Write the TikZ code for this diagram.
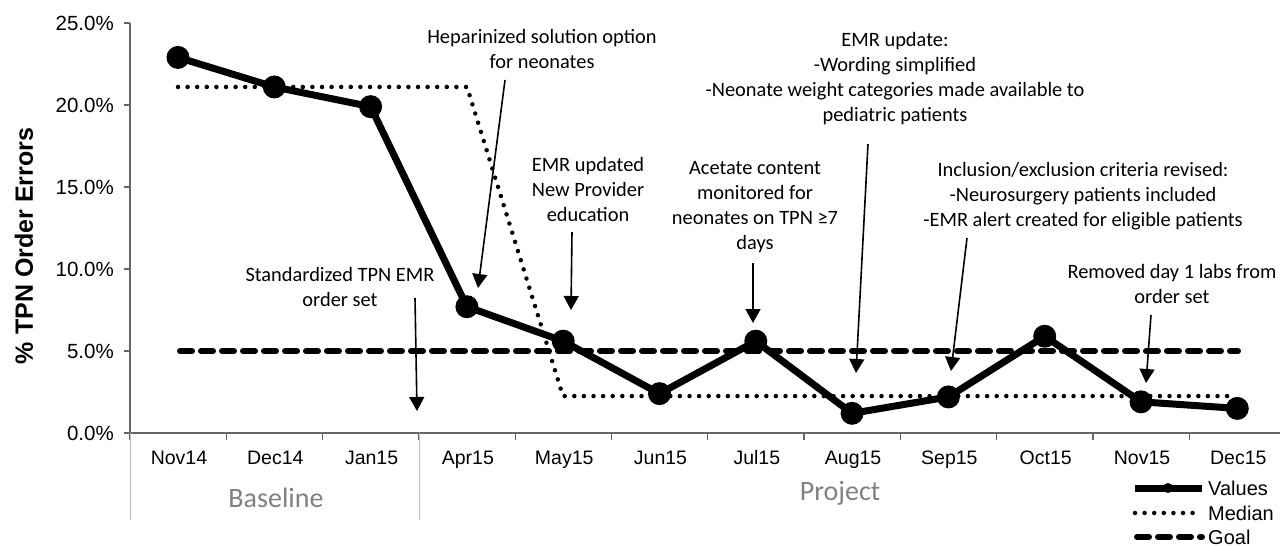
\documentclass[tikz,border=0pt]{standalone}
\usepackage{fontspec}
\setmainfont{Carlito}
\newfontfamily\arialfont{Liberation Sans}
\usetikzlibrary{arrows.meta,positioning}

\begin{document}
\begin{tikzpicture}[x=1pt,y=-1pt,
  ann/.style={align=center,font=\fontsize{20.4}{25}\selectfont,inner sep=0pt},
  ticklab/.style={font=\arialfont\fontsize{19.5}{22}\selectfont,inner sep=0pt},
  phase/.style={font=\fontsize{28}{32}\selectfont,text=black!50,inner sep=0pt},
  values/.style={line width=7pt,line join=round},
  median/.style={line width=4.5pt,line cap=round,dash pattern=on 0pt off 9.6pt},
  goal/.style={line width=6pt,line cap=round,dash pattern=on 12pt off 9pt},
  pointer/.style={line width=1.6pt,-{Triangle[length=14pt,width=15pt]}},
  axis/.style={draw=black!60,line width=1.3pt}]
\useasboundingbox (0,0) rectangle (1280,546);

\foreach \v [count=\i from 0] in {22.9,21.1,19.9,7.7,5.6,2.4,5.6,1.2,2.2,5.9,1.9,1.5}
  \coordinate (p\i) at ({178+96.3*\i},{433-16.4*\v});

\draw[axis] (130,23) -- (130,433) -- (1280,433);
\foreach \v in {0,5,...,25} {
  \draw[axis] (124,{433-16.4*\v}) -- (130,{433-16.4*\v});
  \node[ticklab,anchor=base east,font=\arialfont\fontsize{20.5}{22}\selectfont] (y\v) at (114,{440-16.4*\v}) {\v.0\%};
}
\foreach \k in {0,...,11}
  \draw[axis] ({130+96.3*\k},433) -- ({130+96.3*\k},440);
\foreach \m [count=\i from 0] in {Nov14,Dec14,Jan15,Apr15,May15,Jun15,Jul15,Aug15,Sep15,Oct15,Nov15,Dec15}
  \node[ticklab,anchor=base] (c\i) at ({179+96.3*\i},464) {\m};

\draw[black!25,line width=1pt] (130,433) -- (130,520);
\draw[black!25,line width=1pt] (419,433) -- (419,520);
\node[phase,anchor=base] (base) at (276,507) {Baseline};
\node[phase,anchor=base] (proj) at (840,500) {Project};

\node[rotate=90,font=\arialfont\bfseries\fontsize{25}{30}\selectfont] (ytitle) at (24,246) {\% TPN Order Errors};

\coordinate (g0) at (180,{433-16.4*5});
\coordinate (g1) at (1238,{433-16.4*5});
\draw[goal] (g0) -- (g1);

\coordinate (m0) at (178,{433-16.4*21.1});
\coordinate (m1) at (467,{433-16.4*21.1});
\coordinate (m2) at (563,{433-16.4*2.25});
\coordinate (m3) at (1235,{433-16.4*2.25});
\draw[median] (m0) -- (m1) -- (m2) -- (m3);

\draw[values] (p0) \foreach \i in {1,...,11} { -- (p\i) };
\foreach \i in {0,...,11}
  \fill (p\i) circle (11.5);

\node[ann] (std)  at (340,287) {Standardized TPN EMR\\order set};
\node[ann] (hep)  at (542,49)  {Heparinized solution option\\for neonates};
\node[ann] (prov) at (588,189) {EMR updated\\New Provider\\education};
\node[ann] (acet) at (755,207) {Acetate content\\monitored for\\neonates on TPN ≥7\\days};
\node[ann] (upd)  at (895,79)  {EMR update:\\-Wording simplified\\-Neonate weight categories made available to\\pediatric patients};
\node[ann] (incl) at (1083,196) {Inclusion/exclusion criteria revised:\\-Neurosurgery patients included\\-EMR alert created for eligible patients};
\node[ann] (rem)  at (1172,284) {Removed day 1 labs from\\order set};

\coordinate (std-s)  at (415,298);  \coordinate (std-e)  at (417,411);
\coordinate (hep-s)  at (505,80);   \coordinate (hep-e)  at (478,288);
\coordinate (prov-s) at (572,232);  \coordinate (prov-e) at (571,310);
\coordinate (acet-s) at (753,263);  \coordinate (acet-e) at (753,323);
\coordinate (upd-s)  at (868,144);  \coordinate (upd-e)  at (856,373);
\coordinate (incl-s) at (967,238);  \coordinate (incl-e) at (951,371);
\coordinate (rem-s)  at (1151,315); \coordinate (rem-e)  at (1146,383);
\draw[pointer] (std-s) -- (std-e);
\draw[pointer] (hep-s) -- (hep-e);
\draw[pointer] (prov-s) -- (prov-e);
\draw[pointer] (acet-s) -- (acet-e);
\draw[pointer] (upd-s) -- (upd-e);
\draw[pointer] (incl-s) -- (incl-e);
\draw[pointer] (rem-s) -- (rem-e);

\coordinate (l1a) at (1135,488); \coordinate (l1b) at (1202,488);
\coordinate (l1m) at (1168,488);
\coordinate (l2a) at (1135,513); \coordinate (l2b) at (1202,513);
\coordinate (l3a) at (1137,537); \coordinate (l3b) at (1202,537);
\draw[values] (l1a) -- (l1b);
\fill (l1m) circle (5);
\draw[median] (l2a) -- (l2b);
\draw[goal] (l3a) -- (l3b);
\node[ticklab,anchor=base west,font=\arialfont\fontsize{20}{22}\selectfont] (lv) at (1208,495) {Values};
\node[ticklab,anchor=base west,font=\arialfont\fontsize{20}{22}\selectfont] (lm) at (1208,520) {Median};
\node[ticklab,anchor=base west,font=\arialfont\fontsize{20}{22}\selectfont] (lg) at (1208,544) {Goal};
\end{tikzpicture}
\end{document}
